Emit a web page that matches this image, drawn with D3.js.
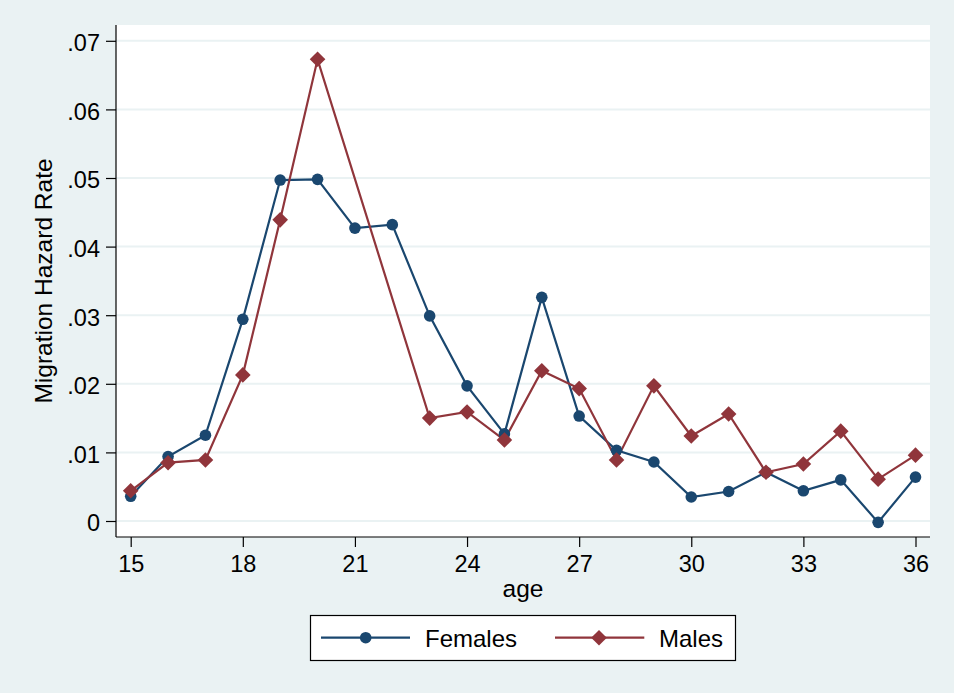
<!DOCTYPE html>
<html>
<head>
<meta charset="utf-8">
<script src="https://cdn.jsdelivr.net/npm/d3@7"></script>
<style>
  html, body { margin: 0; padding: 0; background: #EAF2F3; }
  svg { display: block; font-family: "Liberation Sans", Arial, sans-serif; }
</style>
</head>
<body>
<svg id="chart" width="954" height="693"></svg>
<script>
// ---- data ----
const ages = [15,16,17,18,19,20,21,22,23,24,25,26,27,28,29,30,31,32,33,34,35,36];
const females = [0.0036,0.0094,0.0125,0.0294,0.0497,0.0498,0.0427,0.0432,0.0299,0.0197,0.0127,0.0326,0.0153,0.0103,0.0086,0.0035,0.0043,0.0071,0.0044,0.0060,-0.0002,0.0064];
const males = [0.0044,0.0085,0.0089,0.0213,0.0439,0.0673,null,null,0.0150,0.0159,0.0118,0.0219,0.0193,0.0089,0.0197,0.0124,0.0156,0.0071,0.0083,0.0131,0.0061,0.0096];
const xTicks = [15,18,21,24,27,30,33,36];
const yTicks = [0,0.01,0.02,0.03,0.04,0.05,0.06,0.07];
const yTickLabels = ["0",".01",".02",".03",".04",".05",".06",".07"];
const seriesNames = ["Females","Males"];

const blue = "#1a476f", red = "#90353b", grid = "#EAF2F3";

const svg = d3.select("#chart");
const plot = {left:116, right:930, top:25, bottom:537};

const x = d3.scaleLinear().domain([15,36]).range([130.7, 915.5]);
const y = d3.scaleLinear().domain([0,0.07]).range([521, 40.8]);

// background
svg.append("rect").attr("width",954).attr("height",693).attr("fill","#EAF2F3");
svg.append("rect").attr("x",plot.left).attr("y",plot.top)
  .attr("width",plot.right-plot.left).attr("height",plot.bottom-plot.top).attr("fill","#fff");

// gridlines
svg.append("g").selectAll("line").data(yTicks).join("line")
  .attr("x1",plot.left).attr("x2",plot.right)
  .attr("y1",d=>y(d)).attr("y2",d=>y(d))
  .attr("stroke",grid).attr("stroke-width",2);

// y axis
const yAxis = d3.axisLeft(y).tickValues(yTicks).tickFormat((d,i)=>yTickLabels[i]).tickSize(10).tickPadding(6);
const gy = svg.append("g").attr("transform",`translate(${plot.left},0)`).call(yAxis);
gy.select(".domain").remove();
gy.append("line").attr("x1",0).attr("x2",0).attr("y1",plot.top).attr("y2",plot.bottom).attr("stroke","#000").attr("stroke-width",1.2);
gy.selectAll(".tick line").attr("stroke","#000").attr("stroke-width",1.2);
gy.selectAll(".tick text").attr("font-size",23.5).attr("fill","#000").attr("dy","0.42em")
  .attr("font-family","Liberation Sans, Arial, sans-serif");

// x axis
const xAxis = d3.axisBottom(x).tickValues(xTicks).tickSize(10).tickPadding(8);
const gx = svg.append("g").attr("transform",`translate(0,${plot.bottom})`).call(xAxis);
gx.select(".domain").remove();
gx.append("line").attr("x1",plot.left).attr("x2",plot.right).attr("y1",0).attr("y2",0).attr("stroke","#000").attr("stroke-width",1.2);
gx.selectAll(".tick line").attr("stroke","#000").attr("stroke-width",1.2);
gx.selectAll(".tick text").attr("font-size",23.5).attr("fill","#000")
  .attr("font-family","Liberation Sans, Arial, sans-serif");

// axis titles
svg.append("text").attr("x",(plot.left+plot.right)/2).attr("y",597)
  .attr("text-anchor","middle").attr("font-size",24.5).text("age");
svg.append("text").attr("transform",`translate(52,${(plot.top+plot.bottom)/2}) rotate(-90)`)
  .attr("text-anchor","middle").attr("font-size",24.5).text("Migration Hazard Rate");

// series
const line = d3.line().x(d=>x(d.a)).y(d=>y(d.v));
const fData = ages.map((a,i)=>({a, v:females[i]})).filter(d=>d.v!==null);
const mData = ages.map((a,i)=>({a, v:males[i]})).filter(d=>d.v!==null);

const diamond = (cx,cy,r)=>`M${cx},${cy-r}L${cx+r},${cy}L${cx},${cy+r}L${cx-r},${cy}Z`;

svg.append("path").datum(fData).attr("d",line).attr("fill","none").attr("stroke",blue).attr("stroke-width",2.2);
svg.append("path").datum(mData).attr("d",line).attr("fill","none").attr("stroke",red).attr("stroke-width",2.2);

svg.append("g").selectAll("circle").data(fData).join("circle")
  .attr("cx",d=>x(d.a)).attr("cy",d=>y(d.v)).attr("r",5.8).attr("fill",blue);
svg.append("g").selectAll("path").data(mData).join("path")
  .attr("d",d=>diamond(x(d.a),y(d.v),7.8)).attr("fill",red);

// legend
const lg = svg.append("g");
lg.append("rect").attr("x",310.5).attr("y",615.5).attr("width",425).attr("height",45)
  .attr("fill","#fff").attr("stroke","#000").attr("stroke-width",1.2);
const legendItems = [
  {name:seriesNames[0], color:blue, x1:321, x2:410, mx:365.7, tx:425, shape:"circle"},
  {name:seriesNames[1], color:red, x1:555, x2:644.3, mx:599, tx:659, shape:"diamond"}
];
const ly = 637.7;
legendItems.forEach(it=>{
  lg.append("line").attr("x1",it.x1).attr("x2",it.x2).attr("y1",ly).attr("y2",ly)
    .attr("stroke",it.color).attr("stroke-width",2.2);
  if(it.shape==="circle") lg.append("circle").attr("cx",it.mx).attr("cy",ly).attr("r",5.8).attr("fill",it.color);
  else lg.append("path").attr("d",diamond(it.mx,ly,7.8)).attr("fill",it.color);
  lg.append("text").attr("x",it.tx).attr("y",646.5).attr("font-size",24).attr("fill","#000").text(it.name);
});
</script>
</body>
</html>
